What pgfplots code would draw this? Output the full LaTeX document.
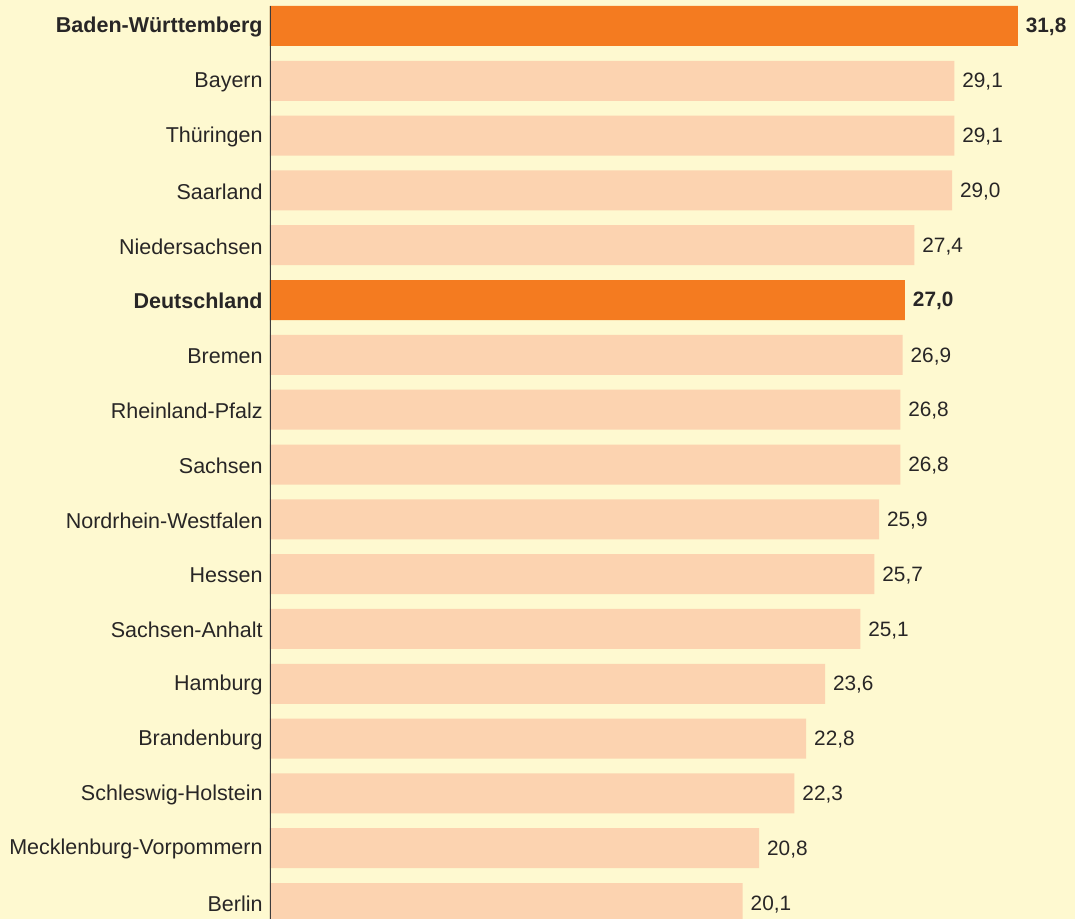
\documentclass[border=0pt]{standalone}
\usepackage{fontspec}
\setmainfont{Liberation Sans}
\usepackage{pgfplots}
\pgfplotsset{compat=1.18}
\definecolor{bgc}{RGB}{254,249,208}
\definecolor{barl}{RGB}{252,211,176}
\definecolor{bard}{RGB}{244,123,32}
\definecolor{txt}{RGB}{40,38,38}
\begin{document}
\begin{tikzpicture}
\fill[bgc] (-135pt,0pt) rectangle (402.5pt,459.5pt);
\begin{axis}[
  at={(0pt,0pt)}, anchor=south west,
  scale only axis,
  width=402.5pt, height=459.5pt,
  xmin=0, xmax=34.23,
  ymin=-0.4744, ymax=16.292,
  y dir=reverse,
  hide x axis,
  axis y line*=left,
  y axis line style={draw=none},
  ytick={0,...,16},
  major tick length=0pt,
  ytick style={draw=none},
  yticklabels={\textbf{Baden-Württemberg},Bayern,Thüringen,Saarland,Niedersachsen,\textbf{Deutschland},Bremen,Rheinland-Pfalz,Sachsen,Nordrhein-Westfalen,Hessen,Sachsen-Anhalt,Hamburg,Brandenburg,Schleswig-Holstein,Mecklenburg-Vorpommern,Berlin},
  yticklabel style={anchor=east, inner sep=0pt, xshift=-3.5pt, yshift=-0.6pt, font=\fontsize{10.75}{12}\selectfont, text=txt},
  xbar, bar width=20pt, bar shift=0pt,
  /pgf/number format/assume math mode=true,
  /pgf/number format/fixed,
  /pgf/number format/fixed zerofill,
  /pgf/number format/precision=1,
  /pgf/number format/use comma,
  nodes near coords,
  every node near coord/.append style={anchor=west, inner sep=0pt, xshift=3.8pt, yshift=-0.6pt, font=\fontsize{10.4}{12}\selectfont, text=txt},
]
\addplot[fill=barl, draw=none] coordinates {
(29.1,1) (29.1,2) (29.0,3) (27.4,4) (26.9,6) (26.8,7) (26.8,8) (25.9,9) (25.7,10) (25.1,11) (23.6,12) (22.8,13) (22.3,14) (20.8,15) (20.1,16)};
\addplot[fill=bard, draw=none, every node near coord/.append style={font=\fontsize{10.4}{12}\selectfont\bfseries}] coordinates {
(31.8,0) (27.0,5)};
\draw[line width=1pt, color=txt!90] (axis cs:0,-0.365) -- (axis cs:0,16.292);
\end{axis}
\end{tikzpicture}
\end{document}
